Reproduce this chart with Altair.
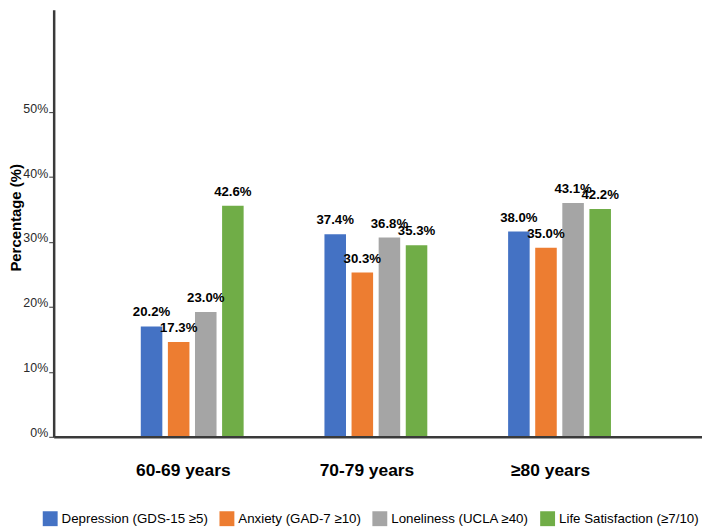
import altair as alt
import pandas as pd

groups = ["60-69 years", "70-79 years", "≥80 years"]
series = ["Depression (GDS-15 ≥5)", "Anxiety (GAD-7 ≥10)",
          "Loneliness (UCLA ≥40)", "Life Satisfaction (≥7/10)"]
colors = ["#4472C4", "#ED7D31", "#A5A5A5", "#70AD47"]

# bar heights as drawn (read against the y axis)
dep_h = [17.0, 31.2, 31.6]
anx_h = [14.6, 25.3, 29.1]
lon_h = [19.2, 30.7, 36.0]
life_h = [35.6, 29.5, 35.1]

# printed value labels
dep_lbl = ["20.2%", "37.4%", "38.0%"]
anx_lbl = ["17.3%", "30.3%", "35.0%"]
lon_lbl = ["23.0%", "36.8%", "43.1%"]
life_lbl = ["42.6%", "35.3%", "42.2%"]

y_ticks = [0, 10, 20, 30, 40, 50]

rows = []
for s, hs, ls in zip(series, [dep_h, anx_h, lon_h, life_h],
                     [dep_lbl, anx_lbl, lon_lbl, life_lbl]):
    for g, h, l in zip(groups, hs, ls):
        rows.append({"group": g, "series": s, "value": h, "label": l})
df = pd.DataFrame(rows)

FONT = "Liberation Sans, Arial, Helvetica, sans-serif"

x_enc = alt.X(
    "group:N", sort=groups,
    scale=alt.Scale(paddingInner=0.44, paddingOuter=0.485, align=0.489),
    axis=alt.Axis(title=None, labelAngle=0, ticks=False, tickSize=0,
                  labelPadding=25, labelFontSize=17.5, labelFontWeight="bold",
                  labelFont=FONT, labelColor="black", labelOffset=-9,
                  domainColor="#3a3a3a", domainWidth=2.5, zindex=1),
)
xo_enc = alt.XOffset("series:N", sort=series,
                     scale=alt.Scale(paddingInner=0.205, paddingOuter=0))
y_scale = alt.Scale(domain=[0, 65.75], nice=False)

bars = alt.Chart(df).mark_bar().encode(
    x=x_enc,
    xOffset=xo_enc,
    y=alt.Y("value:Q", scale=y_scale,
            axis=alt.Axis(values=y_ticks, labelExpr="datum.value + '%'",
                          title="Percentage (%)", titleFontSize=15,
                          titleFontWeight="bold", titleFont=FONT,
                          titleColor="black", titleAngle=270, titleX=-38,
                          titleY=209, titleAlign="center",
                          titleBaseline="middle",
                          labelFontSize=12.5, labelFont=FONT, labelColor="#2a2a2a",
                          labelBaseline="alphabetic", labelPadding=1,
                          tickSize=5, tickColor="#333333", tickWidth=1,
                          grid=False, domainColor="#3a3a3a", domainWidth=2.5,
                          zindex=1)),
    color=alt.Color("series:N", sort=series,
                    scale=alt.Scale(domain=series, range=colors),
                    legend=alt.Legend(title=None, orient="none",
                                      direction="horizontal",
                                      legendX=-11, legendY=505,
                                      symbolType="square", symbolSize=225,
                                      symbolStrokeWidth=0, symbolOpacity=1,
                                      labelFontSize=13.4, labelFont=FONT,
                                      labelColor="black", labelOffset=4,
                                      columnPadding=11, padding=0,
                                      labelLimit=300)),
)

text = alt.Chart(df).mark_text(
    baseline="alphabetic", align="center", dy=-10,
    fontSize=13.3, fontWeight="bold", font=FONT, color="black",
).encode(
    x=x_enc,
    xOffset=xo_enc,
    y=alt.Y("value:Q", scale=y_scale),
    text="label:N",
)

chart = alt.layer(bars, text).properties(
    width=653, height=430,
    padding={"left": 46, "top": 0, "right": 0, "bottom": 92},
    autosize=alt.AutoSizeParams(type="none"),
).configure_view(stroke=None)

chart.save("out.html", embed_options={"renderer": "svg", "actions": False})
